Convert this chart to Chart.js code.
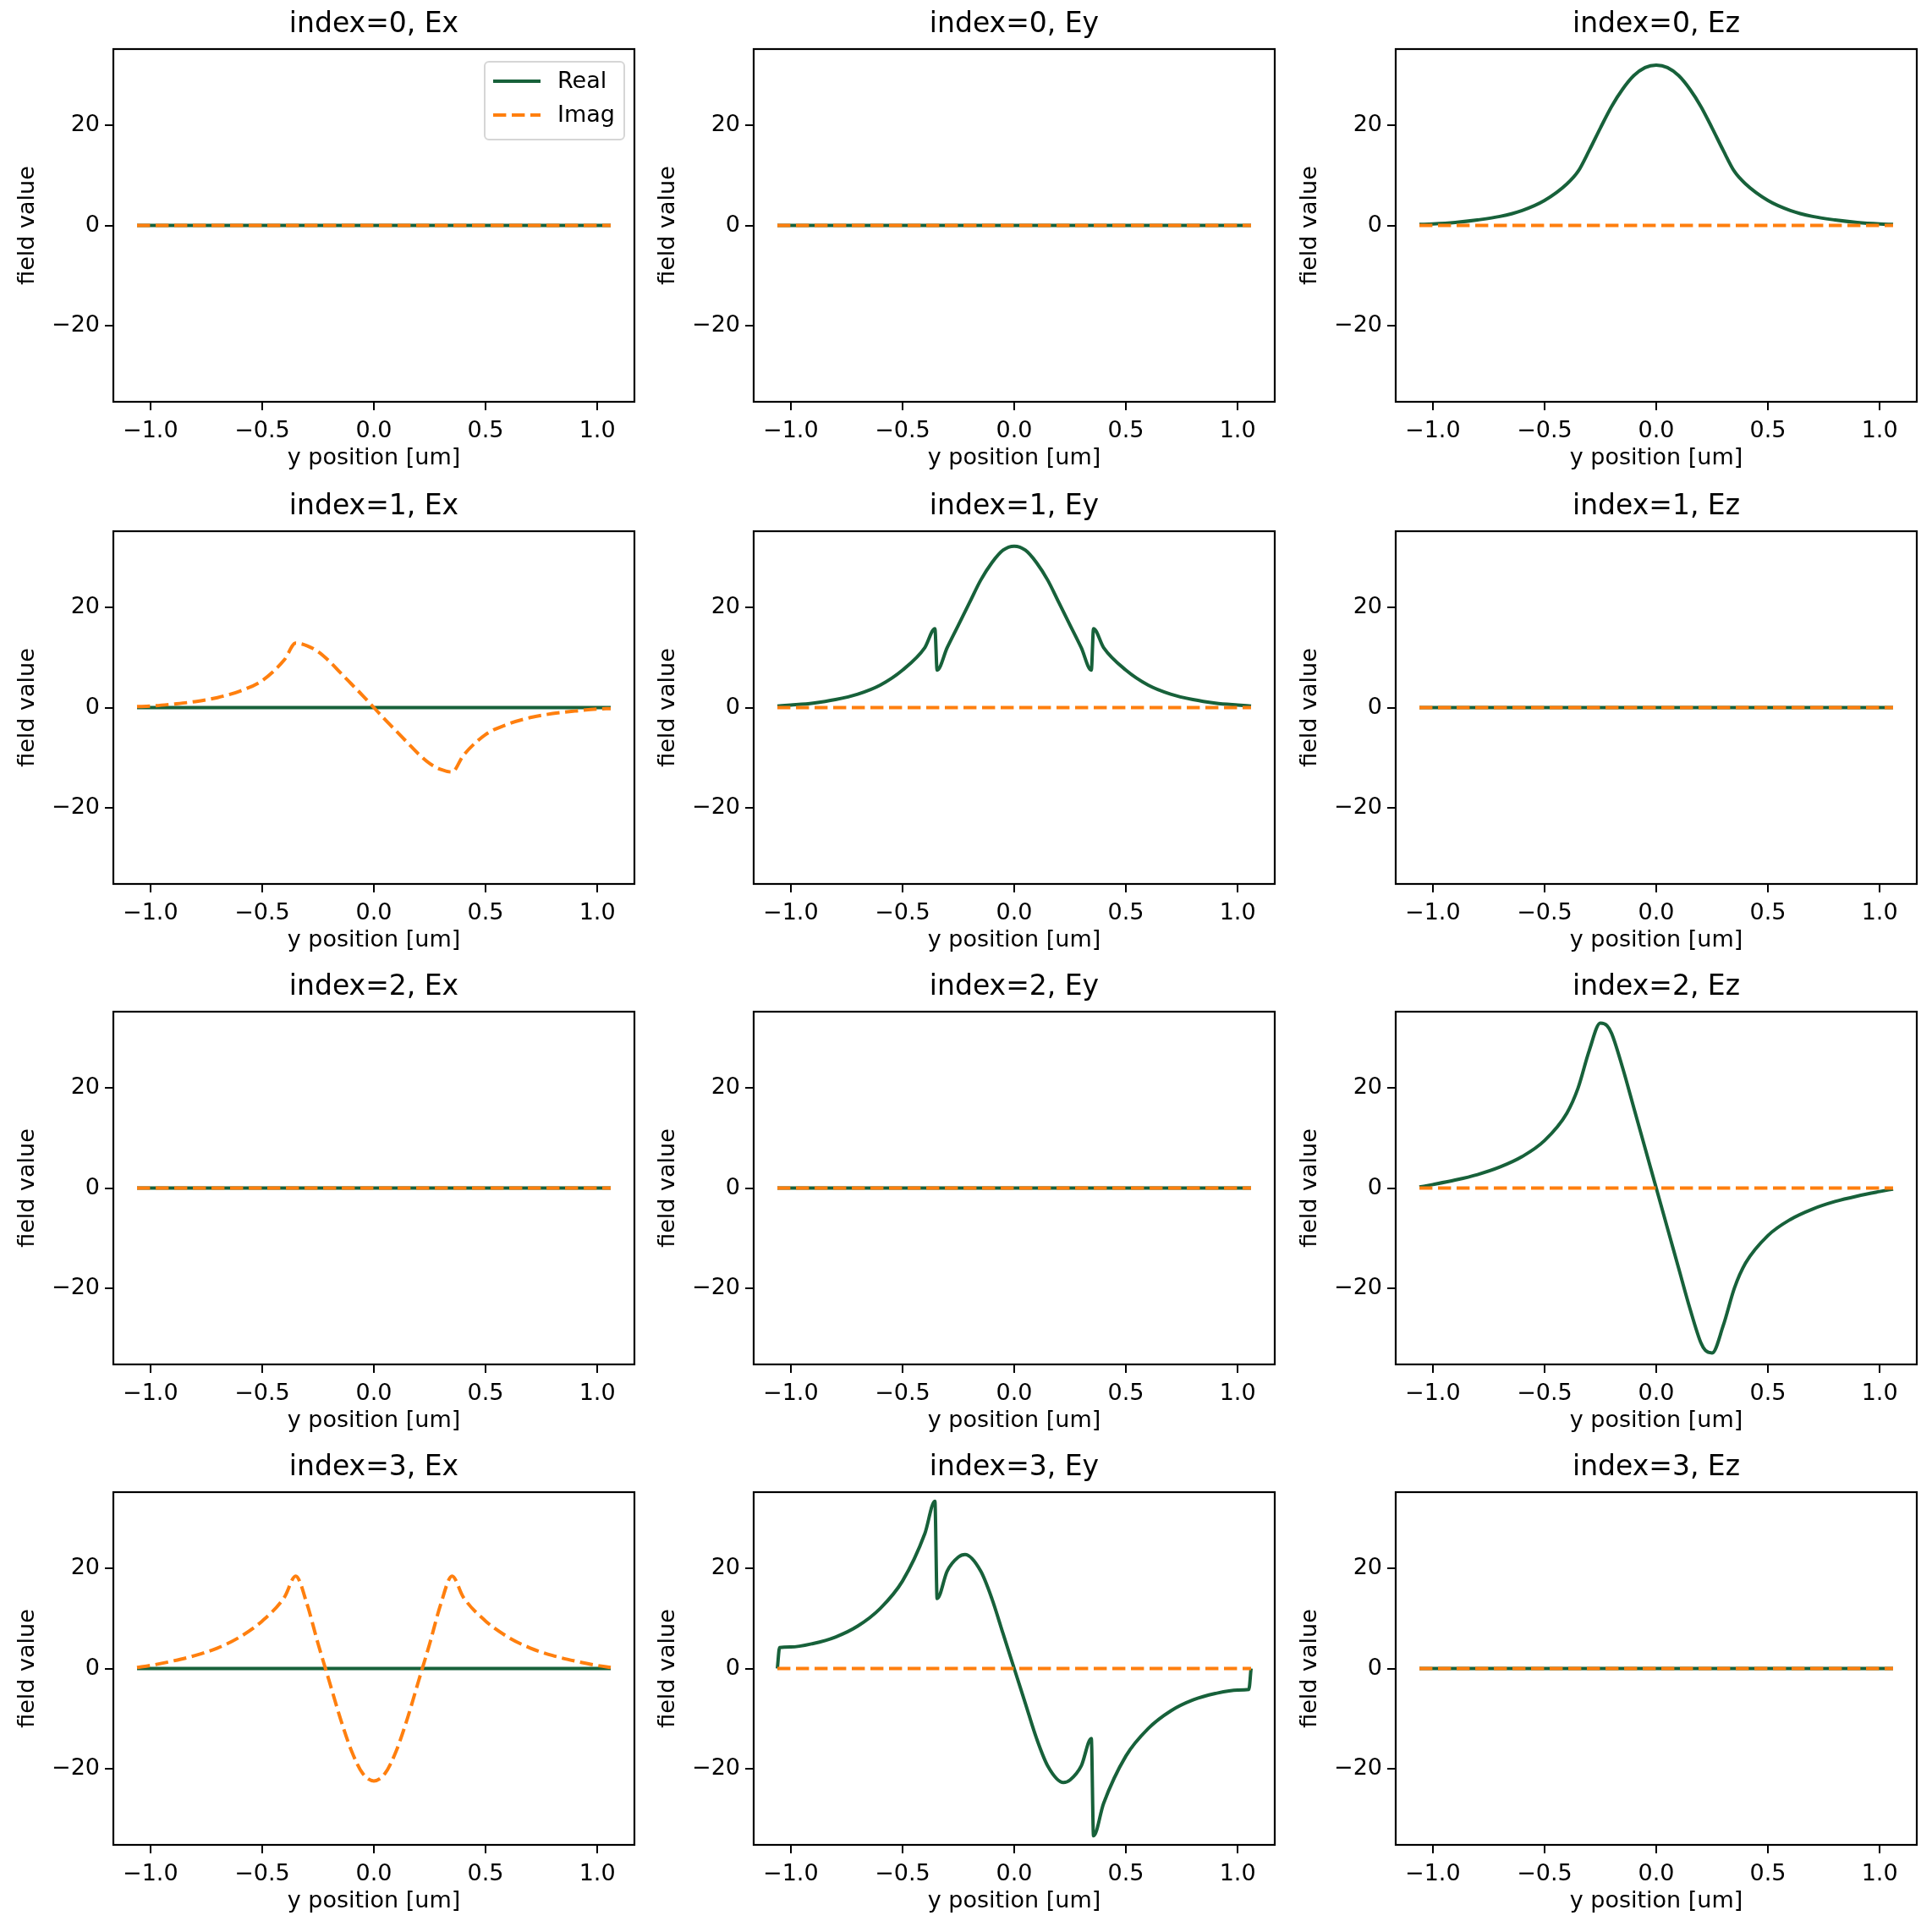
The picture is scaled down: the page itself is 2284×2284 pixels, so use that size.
<!DOCTYPE html>
<html>
<head>
<meta charset="utf-8">
<script src="https://cdn.jsdelivr.net/npm/chart.js@4/dist/chart.umd.min.js"></script>
<style>
  body { margin: 0; background: #fff; }
  #fig { position: relative; width: 2284px; height: 2284px; background: #fff; }
  canvas { position: absolute; }
</style>
</head>
<body>
<div id="fig"></div>
<script>
// ---- data ----
const xTicks = [-1.0, -0.5, 0.0, 0.5, 1.0];
const yTicks = [-20, 0, 20];
const modes = [0, 1, 2, 3];
const comps = ['Ex', 'Ey', 'Ez'];
const flatX = [-1.06, 1.06];
const flatY = [0, 0];

// index=0 Ez, real
const ez0X = [-1.06,-1.0,-0.9,-0.8,-0.7,-0.6,-0.5,-0.4,-0.35,-0.3,-0.25,-0.2,-0.15,-0.1,-0.05,0,0.05,0.1,0.15,0.2,0.25,0.3,0.35,0.4,0.5,0.6,0.7,0.8,0.9,1.0,1.06];
const ez0Y = [0.2,0.3,0.6,1.1,1.8,3.0,5.0,8.3,10.8,15.0,19.5,23.8,27.3,30.0,31.6,32.1,31.6,30.0,27.3,23.8,19.5,15.0,10.8,8.3,5.0,3.0,1.8,1.1,0.6,0.3,0.2];

// index=1 Ex, imag
const ex1X = [-1.06,-1.0,-0.9,-0.8,-0.7,-0.6,-0.5,-0.4,-0.35,-0.3,-0.25,-0.2,-0.15,-0.1,-0.05,0,0.05,0.1,0.15,0.2,0.25,0.3,0.35,0.4,0.5,0.6,0.7,0.8,0.9,1.0,1.06];
const ex1Y = [0.2,0.3,0.7,1.2,2.0,3.3,5.4,9.6,12.9,12.4,11.2,9.3,7.0,4.7,2.4,0,-2.4,-4.7,-7.0,-9.3,-11.2,-12.4,-12.9,-9.6,-5.4,-3.3,-2.0,-1.2,-0.7,-0.3,-0.2];

// index=1 Ey, real
const ey1X = [-1.06,-1.0,-0.9,-0.8,-0.7,-0.6,-0.5,-0.4,-0.355,-0.345,-0.3,-0.25,-0.2,-0.15,-0.1,-0.05,0,0.05,0.1,0.15,0.2,0.25,0.3,0.345,0.355,0.4,0.5,0.6,0.7,0.8,0.9,1.0,1.06];
const ey1Y = [0.3,0.5,0.9,1.6,2.7,4.5,7.5,12.0,15.8,7.5,12.0,16.5,21.0,25.5,29.0,31.5,32.3,31.5,29.0,25.5,21.0,16.5,12.0,7.5,15.8,12.0,7.5,4.5,2.7,1.6,0.9,0.5,0.3];

// index=2 Ez, real
const ez2X = [-1.06,-1.0,-0.9,-0.8,-0.7,-0.6,-0.5,-0.4,-0.35,-0.3,-0.25,-0.22,-0.2,-0.15,-0.1,-0.05,0,0.05,0.1,0.15,0.2,0.22,0.25,0.3,0.35,0.4,0.5,0.6,0.7,0.8,0.9,1.0,1.06];
const ez2Y = [0.2,0.7,1.6,2.7,4.2,6.3,9.5,15.0,20.0,27.5,33.0,32.5,31.0,24.0,16.0,8.0,0,-8.0,-16.0,-24.0,-31.0,-32.5,-33.0,-27.5,-20.0,-15.0,-9.5,-6.3,-4.2,-2.7,-1.6,-0.7,-0.2];

// index=3 Ex, imag
const ex3X = [-1.06,-1.0,-0.9,-0.8,-0.7,-0.6,-0.5,-0.4,-0.35,-0.3,-0.25,-0.2,-0.15,-0.1,-0.05,0,0.05,0.1,0.15,0.2,0.25,0.3,0.35,0.4,0.5,0.6,0.7,0.8,0.9,1.0,1.06];
const ex3Y = [0.2,0.6,1.5,2.6,4.1,6.3,9.5,14.3,18.5,13.0,5.0,-2.5,-10.0,-16.5,-21.0,-22.5,-21.0,-16.5,-10.0,-2.5,5.0,13.0,18.5,14.3,9.5,6.3,4.1,2.6,1.5,0.6,0.2];

// index=3 Ey, real
const ey3X = [-1.06,-1.05,-1.0,-0.9,-0.8,-0.7,-0.6,-0.5,-0.4,-0.355,-0.345,-0.3,-0.25,-0.22,-0.15,-0.1,-0.05,0,0.05,0.1,0.15,0.22,0.25,0.3,0.345,0.355,0.4,0.5,0.6,0.7,0.8,0.9,1.0,1.05,1.06];
const ey3Y = [0,4.2,4.3,5.0,6.3,8.5,12.0,17.5,27.0,33.5,14.0,19.5,22.3,22.8,19.5,14.0,7.0,0,-7.0,-14.0,-19.5,-22.8,-22.3,-19.5,-14.0,-33.5,-27.0,-17.5,-12.0,-8.5,-6.3,-5.0,-4.3,-4.2,0];

const curves = {
  '0Ez': { real: [ez0X, ez0Y] },
  '1Ex': { imag: [ex1X, ex1Y] },
  '1Ey': { real: [ey1X, ey1Y] },
  '2Ez': { real: [ez2X, ez2Y] },
  '3Ex': { imag: [ex3X, ex3Y] },
  '3Ey': { real: [ey3X, ey3Y] }
};

// ---- layout ----
const GREEN = '#17613a';
const ORANGE = '#ff7f0e';
const FONT = 'DejaVu Sans';
const colLeft = [134, 891, 1650];
const rowTop = [58, 628, 1196, 1764];
const axW = 616, axH = 417;
const padL = 134, padT = 58, padB = 85, padR = 20, leftGap = 17;

const fmt = v => (v < 0 ? '\u2212' : '') + Math.abs(v).toFixed(1);
const fmtY = v => (v < 0 ? '\u2212' : '') + Math.abs(v);
const toPts = (xs, ys) => xs.map((x, i) => ({ x: x, y: ys[i] }));

// box round the axes + title centred over the axes
const frame = {
  id: 'frame',
  afterDraw(chart, args, opts) {
    const a = chart.chartArea, c = chart.ctx;
    c.save();
    c.strokeStyle = '#000';
    c.lineWidth = 2.2;
    c.strokeRect(a.left, a.top, a.right - a.left, a.bottom - a.top);
    c.fillStyle = '#000';
    c.font = '33px "' + FONT + '"';
    c.textAlign = 'center';
    c.textBaseline = 'middle';
    c.fillText(opts.text, (a.left + a.right) / 2, a.top - 29);
    c.restore();
  }
};

const legendBox = {
  id: 'legendBox',
  afterDraw(chart, args, opts) {
    if (!opts.show) return;
    const a = chart.chartArea, c = chart.ctx;
    const w = 165, h = 92, x = a.right - w - 12, y = a.top + 15;
    c.save();
    c.fillStyle = 'rgba(255,255,255,0.8)';
    c.strokeStyle = '#d6d6d6';
    c.lineWidth = 2;
    c.beginPath();
    c.roundRect(x, y, w, h, 5);
    c.fill(); c.stroke();
    c.lineWidth = 4;
    c.strokeStyle = GREEN;
    c.beginPath(); c.moveTo(x + 10, y + 23); c.lineTo(x + 66, y + 23); c.stroke();
    c.strokeStyle = ORANGE;
    c.setLineDash([15.4, 6.6]);
    c.beginPath(); c.moveTo(x + 10, y + 63); c.lineTo(x + 66, y + 63); c.stroke();
    c.setLineDash([]);
    c.fillStyle = '#000';
    c.font = '27px "' + FONT + '"';
    c.textBaseline = 'middle';
    c.fillText('Real', x + 86, y + 24);
    c.fillText('Imag', x + 86, y + 64);
    c.restore();
  }
};

const fig = document.getElementById('fig');

modes.forEach((m, r) => {
  comps.forEach((comp, ci) => {
    const cv = document.createElement('canvas');
    cv.width = padL + axW + padR;
    cv.height = padT + axH + padB;
    cv.style.left = (colLeft[ci] - padL) + 'px';
    cv.style.top = (rowTop[r] - padT) + 'px';
    fig.appendChild(cv);

    const cur = curves[m + comp] || {};
    const re = cur.real || [flatX, flatY];
    const im = cur.imag || [flatX, flatY];

    new Chart(cv, {
      type: 'line',
      data: {
        datasets: [{
          label: 'Real',
          data: toPts(re[0], re[1]),
          borderColor: GREEN,
          borderWidth: 4,
          pointRadius: 0,
          cubicInterpolationMode: 'monotone',
          fill: false,
          order: 1
        }, {
          label: 'Imag',
          data: toPts(im[0], im[1]),
          borderColor: ORANGE,
          borderWidth: 4,
          borderDash: [15.4, 6.6],
          pointRadius: 0,
          cubicInterpolationMode: 'monotone',
          fill: false,
          order: 0
        }]
      },
      options: {
        responsive: false,
        animation: false,
        devicePixelRatio: 1,
        layout: { padding: { left: leftGap, right: padR, top: padT, bottom: 0 } },
        plugins: {
          legend: { display: false },
          tooltip: { enabled: false },
          title: { display: false },
          frame: { text: 'index=' + m + ', ' + comp },
          legendBox: { show: r === 0 && ci === 0 }
        },
        scales: {
          x: {
            type: 'linear',
            min: -1.166, max: 1.166,
            afterBuildTicks: s => { s.ticks = xTicks.map(v => ({ value: v })); },
            afterFit: s => { s.height = padB; },
            grid: { drawOnChartArea: false, drawTicks: true, tickLength: 10, color: '#000', lineWidth: 2 },
            border: { display: true, color: '#000', width: 2 },
            ticks: { color: '#000', font: { family: FONT, size: 27 }, padding: 9, maxRotation: 0, callback: v => fmt(v) },
            title: { display: true, text: 'y position [um]', color: '#000', font: { family: FONT, size: 27 }, padding: { top: 2, bottom: 2 } }
          },
          y: {
            min: -35.3, max: 35.3,
            afterBuildTicks: s => { s.ticks = yTicks.map(v => ({ value: v })); },
            afterFit: s => { s.width = padL - leftGap; },
            grid: { drawOnChartArea: false, drawTicks: true, tickLength: 10, color: '#000', lineWidth: 2 },
            border: { display: true, color: '#000', width: 2 },
            ticks: { color: '#000', font: { family: FONT, size: 27 }, padding: 6, callback: v => fmtY(v) },
            title: { display: true, text: 'field value', color: '#000', font: { family: FONT, size: 27 }, padding: { top: 0, bottom: 8 } }
          }
        }
      },
      plugins: [frame, legendBox]
    });
  });
});
</script>
</body>
</html>
